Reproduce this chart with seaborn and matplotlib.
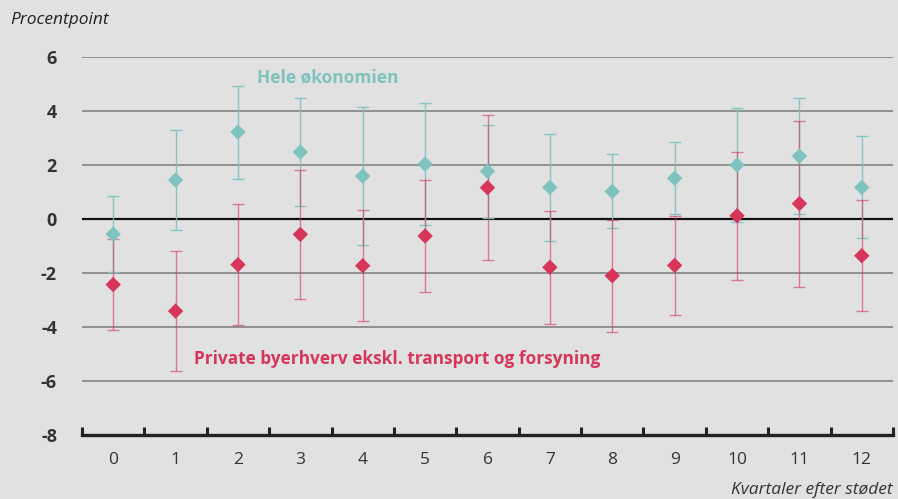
import numpy as np
import pandas as pd
import seaborn as sns
import matplotlib
matplotlib.use("Agg")
import matplotlib.pyplot as plt

quarters = list(range(13))
tick_labels = [str(q) for q in quarters]
hele = [-0.56, 1.44, 3.22, 2.48, 1.59, 2.03, 1.77, 1.17, 1.02, 1.51, 2.00, 2.33, 1.17]
hele_err = [1.41, 1.86, 1.72, 2.00, 2.56, 2.27, 1.72, 1.98, 1.37, 1.33, 2.10, 2.14, 1.89]
priv = [-2.43, -3.41, -1.69, -0.57, -1.73, -0.63, 1.16, -1.79, -2.10, -1.72, 0.12, 0.57, -1.36]
priv_err = [1.68, 2.22, 2.25, 2.38, 2.05, 2.06, 2.68, 2.10, 2.08, 1.84, 2.38, 3.07, 2.05]
yticks = [-8, -6, -4, -2, 0, 2, 4, 6]

TEAL = "#7fc3c0"
RED = "#d6365a"
BG = "#e1e1e1"

sns.set_theme(style="white")
plt.rcParams['font.family'] = ['Open Sans', 'DejaVu Sans']

df = pd.DataFrame({
    "q": quarters * 2,
    "v": hele + priv,
    "e": hele_err + priv_err,
    "s": ["Hele økonomien"] * 13 + ["Private byerhverv ekskl. transport og forsyning"] * 13,
})

fig = plt.figure(figsize=(8.98, 4.99), dpi=100, facecolor=BG)
ax = fig.add_axes([82 / 898, 1 - 435 / 499, (893 - 82) / 898, (435 - 57) / 499])
ax.set_facecolor(BG)

for y in yticks:
    if y in (0, -8):
        continue
    ax.axhline(y, color="#8a8a8a", lw=1.3, zorder=1)
ax.axhline(0, color="#111111", lw=1.6, zorder=1.5)

ax.errorbar(quarters, hele, yerr=hele_err, fmt="none", ecolor=TEAL, elinewidth=1.0,
            capsize=4, capthick=1.0, alpha=0.9, zorder=2)
ax.errorbar(quarters, priv, yerr=priv_err, fmt="none", ecolor=RED, elinewidth=1.0,
            capsize=4, capthick=1.0, alpha=0.6, zorder=2.1)

sns.scatterplot(data=df, x="q", y="v", hue="s", palette=[TEAL, RED], marker="D",
                s=62, linewidth=0, legend=False, ax=ax, zorder=3)

ax.set_xlim(-0.5, 12.5)
ax.set_ylim(-8, 6)
ax.set_xticks(quarters)
ax.set_xticklabels(tick_labels, fontsize=12.5, color="#333333")
ax.set_yticks(yticks)
ax.set_yticklabels([str(y) for y in yticks], fontsize=13, fontweight="bold", color="#333333")
ax.set_xticks(np.arange(-0.5, 13, 1), minor=True)
ax.tick_params(axis="x", which="major", bottom=False, length=0, pad=12)
ax.tick_params(axis="x", which="minor", bottom=True, direction="in", length=6, width=2.2,
               color="#222222")
ax.tick_params(axis="y", left=False, length=0, pad=18)
ax.set_xlabel("")
ax.set_ylabel("")
for sp in ["top", "right", "left"]:
    ax.spines[sp].set_visible(False)
ax.spines["bottom"].set_color("#222222")
ax.spines["bottom"].set_linewidth(2.4)
ax.spines["bottom"].set_zorder(4)

fig.text(10 / 898, 1 - 20 / 499, "Procentpoint", fontsize=12.5, style="italic",
         color="#222222", va="center", ha="left")
fig.text(893 / 898, 1 - 490 / 499, "Kvartaler efter stødet", fontsize=12.5, style="italic",
         color="#333333", va="center", ha="right")
ax.text(2.3, 5.25, "Hele økonomien", fontsize=12.5, fontweight="bold", color=TEAL,
        va="center", ha="left")
ax.text(1.29, -5.2, "Private byerhverv ekskl. transport og forsyning", fontsize=12.4,
        fontweight="bold", color=RED, va="center", ha="left")

fig.savefig("out.png", dpi=100, facecolor=BG)
